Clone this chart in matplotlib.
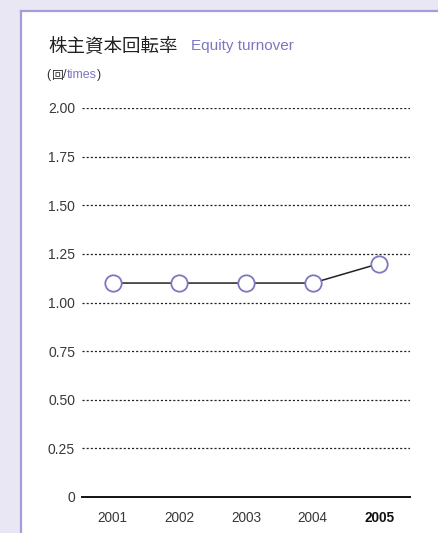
import matplotlib.pyplot as plt
from matplotlib.patches import Rectangle
from matplotlib.lines import Line2D

years = ['2001', '2002', '2003', '2004', '2005']
turnover = [1.10, 1.10, 1.10, 1.10, 1.20]
yticks = [0, 0.25, 0.50, 0.75, 1.00, 1.25, 1.50, 1.75, 2.00]
ytick_labels = ['0', '0.25', '0.50', '0.75', '1.00', '1.25', '1.50', '1.75', '2.00']

PURPLE = '#7d77c2'
BORDER = '#a29fd6'
BG = '#e9e7f3'
FONT = ['Liberation Sans', 'Noto Sans CJK JP', 'DejaVu Sans']
JP = ['Noto Sans CJK JP', 'DejaVu Sans']

W, H = 439, 533
fig = plt.figure(figsize=(W / 100, H / 100), dpi=100)
fig.patch.set_facecolor(BG)

# white panel with border on left and top
fig.patches.append(Rectangle((21 / W, 0), 1, 1 - 11 / H, transform=fig.transFigure,
                             facecolor='white', edgecolor='none', zorder=-5))
fig.lines.append(Line2D([21 / W, 21 / W], [0, 1 - 11 / H], transform=fig.transFigure,
                        color=BORDER, lw=1.6, zorder=-4))
fig.lines.append(Line2D([21 / W, 1], [1 - 11 / H, 1 - 11 / H], transform=fig.transFigure,
                        color=BORDER, lw=1.6, zorder=-4))

# axes: x 82..410 px, y 108..497 px
ax = fig.add_axes([82 / W, 1 - 497 / H, (410 - 82) / W, (497 - 108) / H])
ax.set_facecolor('none')
x = list(range(len(years)))
ax.plot(x, turnover, color='#222222', lw=1.1, marker='o', markersize=11.8,
        markerfacecolor='white', markeredgecolor=PURPLE, markeredgewidth=1.3, zorder=3,
        clip_on=False)

ax.set_xlim(-0.46, 4.46)
ax.set_ylim(0, 2.0)
ax.set_yticks(yticks)
ax.set_yticklabels(ytick_labels, family=FONT, fontsize=10, color='#383838')
ax.set_xticks(x)
ax.set_xticklabels(years, family=FONT, fontsize=9.8, color='#383838')
ax.get_xticklabels()[-1].set_fontweight('bold')
ax.get_xticklabels()[-1].set_color('#111111')
ax.tick_params(length=0, pad=10)
ax.tick_params(axis='y', pad=5)
for v in yticks[1:]:
    ax.axhline(v, color='#222222', lw=0.9, ls=(0, (1.7, 1.6)), zorder=1)
for s in ['top', 'right', 'left']:
    ax.spines[s].set_visible(False)
ax.spines['bottom'].set_color('#111111')
ax.spines['bottom'].set_linewidth(1.4)

# title line
fig.text(48 / W, 1 - 46 / H, '株主資本回転率', family=JP, fontsize=13.3,
         color='#222222', va='center', ha='left')
fig.text(191 / W, 1 - 46 / H, 'Equity turnover', family=FONT, fontsize=11,
         color=PURPLE, va='center', ha='left')

# unit line, pieces chained one after another
u1 = fig.text(46 / W, 1 - 75 / H, '(', family=FONT, fontsize=9, color='#333333', va='center')
u2 = ax.annotate('回', xy=(1, 0.5), xycoords=u1, xytext=(0.5, 0), textcoords='offset points',
                 family=JP, fontsize=8.5, color='#333333', va='center', ha='left')
u3 = ax.annotate('/', xy=(1, 0.5), xycoords=u2, xytext=(0.5, 0), textcoords='offset points',
                 family=FONT, fontsize=9, color='#333333', va='center', ha='left')
u4 = ax.annotate('times', xy=(1, 0.5), xycoords=u3, xytext=(0, 0), textcoords='offset points',
                 family=FONT, fontsize=9, color=PURPLE, va='center', ha='left')
ax.annotate(')', xy=(1, 0.5), xycoords=u4, xytext=(0, 0), textcoords='offset points',
            family=FONT, fontsize=9, color='#333333', va='center', ha='left')

fig.savefig('out.png', dpi=100, facecolor=fig.get_facecolor())
